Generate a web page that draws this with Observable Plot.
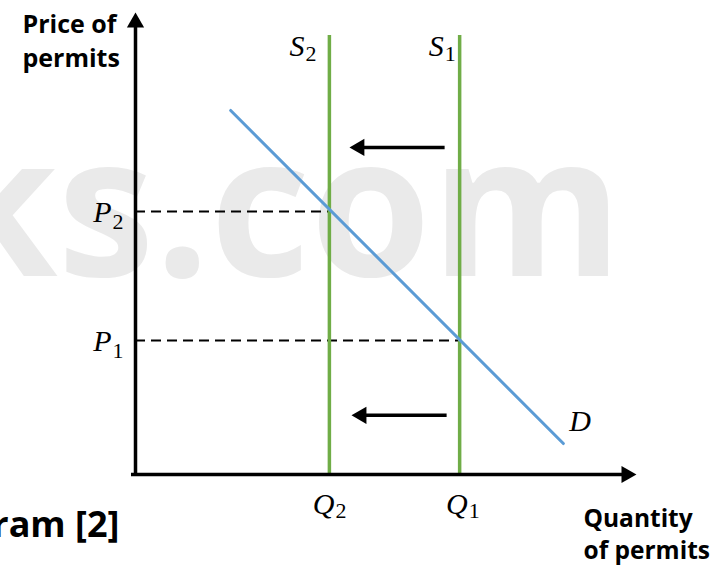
<!DOCTYPE html>
<html><head><meta charset="utf-8">
<script src="https://cdn.jsdelivr.net/npm/d3@7"></script>
<script src="https://cdn.jsdelivr.net/npm/@observablehq/plot@0.6"></script>
<style>html,body{margin:0;padding:0;background:#fff} svg{display:block}</style>
</head><body><div id="chart"></div>
<script>
// ---- data (abstract units: quantity 0–100, price 0–100) ----
const supplyNames = ["S", "S"];
const supplySubs = ["2", "1"];
const quantityNames = ["Q", "Q"];
const quantityValues = [38.7, 64.7];      // Q2, Q1
const supplyTop = 95;
const priceNames = ["P", "P"];
const priceSubs = ["2", "1"];
const priceValues = [56.9, 29.0];          // P2, P1
const demandQ = [19.0, 85.4];
const demandP = [78.8, 6.7];
const demandName = "D";
const shiftFrom = [61.7, 62.1];
const shiftTo = [42.7, 43.1];
const shiftPrice = [70.8, 12.8];
const axisTip = 100;
const yTitle = "Price of\npermits";
const xTitle = "Quantity\nof permits";
const caption = "Diagram [2]";
const watermark = "ks.com";

// ---- tables built from the arrays ----
const supply = quantityValues.map((q, i) => ({q, name: supplyNames[i], sub: supplySubs[i]}));
const qLabels = quantityValues.map((q, i) => ({q, name: quantityNames[i], sub: supplySubs[i]}));
const prices = priceValues.map((p, i) => ({p, q: quantityValues[i], name: priceNames[i], sub: priceSubs[i]}));
const demand = demandQ.map((q, i) => ({q, p: demandP[i]}));
const shifts = shiftFrom.map((f, i) => ({from: f, to: shiftTo[i], p: shiftPrice[i]}));

const GREEN = "#70ad47", BLUE = "#5b9bd5";
const MATH = "Liberation Serif", SANS = "Open Sans";
const LETTER = 30, SUB = 22;

function mathLabel(d, x, y, dx, dy, subDy) {
  return [
    Plot.text([d], {x, y, text: "name", dx, dy, textAnchor: "end", lineAnchor: "bottom",
      fontFamily: MATH, fontStyle: "italic", fontSize: LETTER, fill: "black"}),
    Plot.text([d], {x, y, text: "sub", dx: dx + 1, dy: dy + subDy, textAnchor: "start", lineAnchor: "bottom",
      fontFamily: MATH, fontSize: SUB, fill: "black"})
  ];
}

const plot = Plot.plot({
  width: 721, height: 565,
  marginLeft: 135, marginRight: 85, marginTop: 12, marginBottom: 91,
  x: {domain: [0, 100], axis: null},
  y: {domain: [0, 100], axis: null},
  style: {background: "white", overflow: "hidden"},
  marks: [
    // watermark
    Plot.text([watermark], {text: d => d, frameAnchor: "top-right", textAnchor: "end", lineAnchor: "bottom",
      dx: -14, dy: 263, fontSize: 195, fontWeight: "bold", fontFamily: SANS, fill: "#eaeaea"}),
    // dashed price guides
    Plot.ruleY(prices, {y: "p", x1: 0, x2: "q", stroke: "black", strokeWidth: 2, strokeDasharray: "10,6"}),
    // supply lines
    Plot.ruleX(supply, {x: "q", y1: 0, y2: supplyTop, stroke: GREEN, strokeWidth: 3.5}),
    // demand
    Plot.line(demand, {x: "q", y: "p", stroke: BLUE, strokeWidth: 3}),
    // axes
    Plot.ruleY([0], {x1: -0.8, x2: axisTip - 2, stroke: "black", strokeWidth: 3.5}),
    Plot.ruleX([0], {y1: -0.4, y2: axisTip - 2, stroke: "black", strokeWidth: 3.5}),
    Plot.dot([{q: axisTip, p: 0}], {x: "q", y: "p", symbol: "triangle", r: 6.4, rotate: 90, dx: -10, fill: "black", stroke: null}),
    Plot.dot([{q: 0, p: axisTip}], {x: "q", y: "p", symbol: "triangle", r: 6.4, rotate: 0, dy: 10, fill: "black", stroke: null}),
    // shift arrows
    Plot.link(shifts, {x1: "from", x2: d => d.to + 2, y1: "p", y2: "p", stroke: "black", strokeWidth: 3.5}),
    Plot.dot(shifts, {x: "to", y: "p", symbol: "triangle", r: 6.4, rotate: -90, dx: 10, fill: "black", stroke: null}),
    // math labels
    ...mathLabel(supply[0], "q", () => supplyTop, -25, 20, 5),
    ...mathLabel(supply[1], "q", () => supplyTop, -16, 20, 5),
    ...mathLabel(prices[0], () => 0, "p", -24, 10, 7),
    ...mathLabel(prices[1], () => 0, "p", -24, 10, 7),
    ...mathLabel(qLabels[0], "q", () => 0, 5, 39, 4),
    ...mathLabel(qLabels[1], "q", () => 0, 8, 39, 4),
    Plot.text([demand[1]], {x: "q", y: "p", text: () => demandName, dx: 6, dy: -13, textAnchor: "start", lineAnchor: "bottom",
      fontFamily: MATH, fontStyle: "italic", fontSize: LETTER, fill: "black"}),
    // axis titles and caption
    Plot.text([yTitle], {text: d => d, frameAnchor: "top-left", textAnchor: "start", lineAnchor: "top",
      dx: -113, dy: -4, lineHeight: 1.36, fontSize: 25, fontWeight: "bold", fontFamily: SANS, fill: "black"}),
    Plot.text([xTitle], {text: d => d, frameAnchor: "bottom-right", textAnchor: "start", lineAnchor: "top",
      dx: -53, dy: 30, lineHeight: 1.3, fontSize: 24.5, fontWeight: "bold", fontFamily: SANS, fill: "black"}),
    Plot.text([caption], {text: d => d, frameAnchor: "bottom-left", textAnchor: "end", lineAnchor: "bottom",
      dx: -16, dy: 62, fontSize: 36, fontWeight: "bold", fontFamily: SANS, fill: "black"})
  ]
});
document.getElementById("chart").appendChild(plot);
</script>
</body></html>
